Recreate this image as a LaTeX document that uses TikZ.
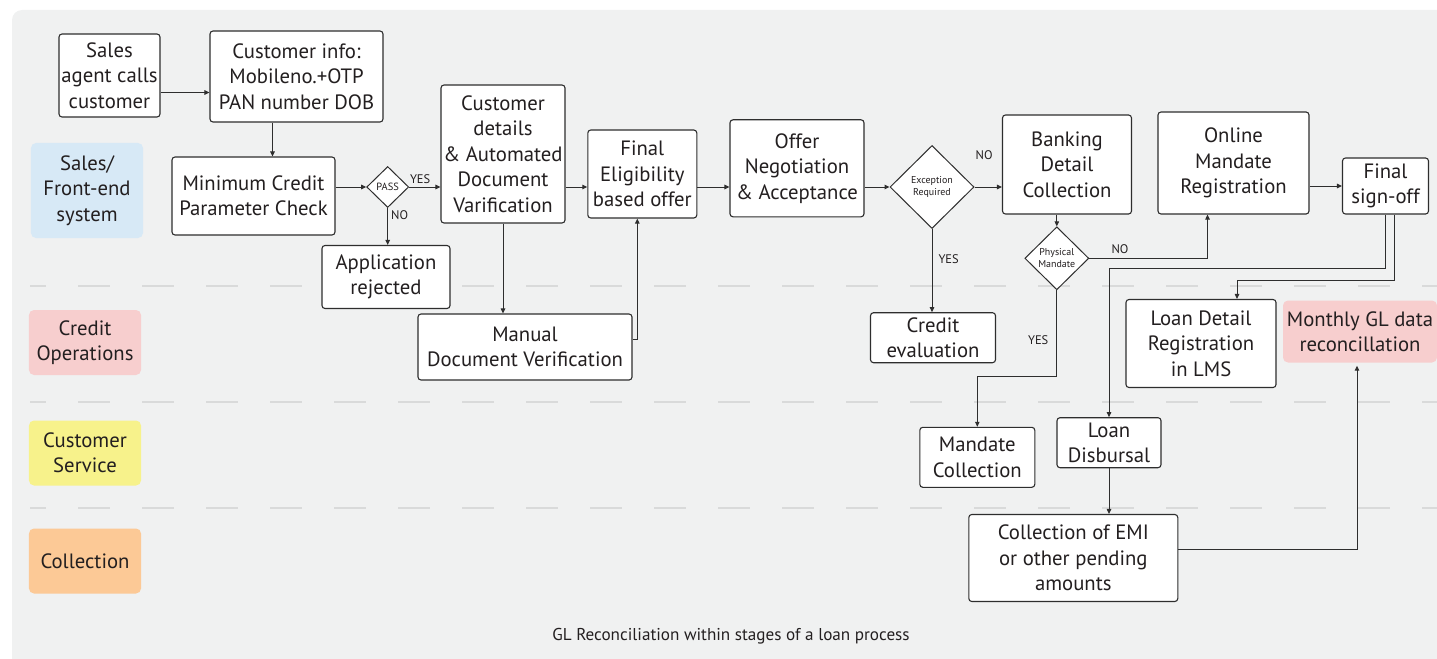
\documentclass[tikz,border=0pt]{standalone}
\usepackage{fontspec}
\setmainfont{PT Sans}
\usepackage{tikz}
\usetikzlibrary{shapes.geometric,arrows.meta,positioning,calc}

\definecolor{bgGray}{HTML}{F0F1F1}
\definecolor{sepGray}{HTML}{D9DADA}
\definecolor{lineDark}{HTML}{2E2E2E}
\definecolor{textDark}{HTML}{231F20}
\definecolor{salesBlue}{HTML}{D7E9F6}
\definecolor{creditPink}{HTML}{F7CECE}
\definecolor{servYellow}{HTML}{F7F28B}
\definecolor{collOrange}{HTML}{FCC996}

\newcommand{\boxfont}{\fontsize{20.8}{25.5}\selectfont}
\newcommand{\lblfont}{\fontsize{12.5}{14}\selectfont}
\newcommand{\dmdfont}{\fontsize{10}{12.3}\selectfont}
\newcommand{\capfont}{\fontsize{17.2}{19}\selectfont}

\begin{document}
\begin{tikzpicture}[
    x=1bp, y=-1bp,
    % --- STYLES ---
    stepbox/.style={
        rectangle, rounded corners=3bp,
        draw=lineDark, line width=1.1bp, fill=white,
        align=center, font=\boxfont, text=textDark,
        inner sep=1bp
    },
    lanetag/.style={
        rectangle, rounded corners=5bp,
        align=center, font=\boxfont, text=textDark,
        minimum width=112bp, minimum height=65bp,
        inner sep=1bp
    },
    decision/.style={
        diamond, draw=lineDark, line width=1bp, fill=white,
        inner sep=0pt, align=center,
        font=\dmdfont, text=textDark
    },
    answer/.style={font=\lblfont, text=textDark, inner sep=1bp},
    lanesep/.style={draw=sepGray, line width=1.4bp, dash pattern=on 32bp off 32bp, dash phase=16bp},
    flow/.style={draw=lineDark, line width=1bp, -{Triangle[length=5bp,width=4.5bp]}}
]

% ===== 1. BACKGROUND & LANES =====
\useasboundingbox (0,0) rectangle (1437,659);
\fill[bgGray, rounded corners=10bp] (12,10) rectangle (1470,690);
\foreach \yy in {286,402,508}
    \draw[lanesep] (30,\yy) -- (1437,\yy);

\node[lanetag, fill=salesBlue, minimum height=95bp] (laneSales) at (87,190.5) {Sales/\\Front-end\\system};
\node[lanetag, fill=creditPink] (laneCredit) at (85,342.5) {Credit\\Operations};
\node[lanetag, fill=servYellow] (laneService) at (85,453) {Customer\\Service};
\node[lanetag, fill=collOrange] (laneColl) at (85,561) {Collection};

% ===== 2. SALES / FRONT-END NODES =====
\node[stepbox, minimum width=101bp, minimum height=83bp] (agent) at (109.5,75.5) {Sales\\agent calls\\customer};
\node[stepbox, minimum width=173bp, minimum height=91bp] (info) at (296.5,76.5) {Customer info:\\Mobileno.+OTP\\PAN number DOB};
\node[stepbox, minimum width=163bp, minimum height=78bp] (mincr) at (253.5,196) {Minimum Credit\\Parameter Check};
\node[decision, minimum width=42bp, minimum height=41bp, font=\fontsize{10.5}{12}\selectfont] (pass) at (387.7,187) {PASS};
\node[stepbox, minimum width=128bp, minimum height=63bp] (rejected) at (386,277) {Application\\rejected};
\node[stepbox, minimum width=124bp, minimum height=138bp] (custdet) at (503,154) {Customer\\details\\\& Automated\\Document\\Varification};
\node[stepbox, minimum width=109bp, minimum height=88bp] (final) at (642.3,174) {Final\\Eligibility\\based offer};
\node[stepbox, minimum width=134bp, minimum height=97bp] (offer) at (797,168.3) {Offer\\Negotiation\\\& Acceptance};
\node[decision, minimum width=84bp, minimum height=83bp] (exc) at (932,187) {Exception\\Required};
\node[stepbox, minimum width=129bp, minimum height=99bp] (bank) at (1067,164.5) {Banking\\Detail\\Collection};
\node[decision, minimum width=64bp, minimum height=63bp] (phys) at (1056.8,258.3) {Physical\\Mandate};
\node[stepbox, minimum width=151bp, minimum height=102bp] (online) at (1233.5,163) {Online\\Mandate\\Registration};
\node[stepbox, minimum width=86bp, minimum height=56bp] (signoff) at (1385.5,186) {Final\\sign-off};

% ===== 3. CREDIT OPERATIONS NODES =====
\node[stepbox, minimum width=214bp, minimum height=66bp] (manual) at (525,347) {Manual\\Document Verification};
\node[stepbox, minimum width=125bp, minimum height=50bp] (crediteval) at (933,337.7) {Credit\\evaluation};
\node[stepbox, minimum width=150bp, minimum height=88bp] (lms) at (1201,343.5) {Loan Detail\\Registration\\in LMS};
\node[lanetag, fill=creditPink, minimum width=154bp, minimum height=62bp] (gl) at (1360,331.5) {Monthly GL data\\reconcillation};

% ===== 4. CUSTOMER SERVICE & COLLECTION NODES =====
\node[stepbox, minimum width=115bp, minimum height=60bp] (mandcol) at (977.3,457.3) {Mandate\\Collection};
\node[stepbox, minimum width=104bp, minimum height=50bp] (disb) at (1109,442.7) {Loan\\Disbursal};
\node[stepbox, minimum width=209bp, minimum height=87bp] (emi) at (1073.3,558) {Collection of EMI\\or other pending\\amounts};

\node[font=\capfont, text=textDark] (caption) at (731,636) {GL Reconciliation within stages of a loan process};

% ===== 5. CONNECTIONS =====
\draw[flow] ([yshift=-17bp]agent.east) -- ([yshift=-17bp]agent.east -| info.west);
\draw[flow] ([xshift=-24bp]info.south) -- ([xshift=-24bp]info.south |- mincr.north);
\draw[flow] (pass.west -| mincr.east) -- (pass.west);

% PASS branch
\draw[flow] (pass.east) -- node[answer, above=2bp, pos=0.35] {YES} (pass.east -| custdet.west);
\draw[flow] (pass.south) -- node[answer, right=2bp, pos=0.2] {NO} (pass.south |- rejected.north);

% document checks
\draw[flow] (custdet.south) -- (custdet.south |- manual.north);
\draw[flow] ([yshift=8bp]manual.east) -| ([xshift=-5bp]final.south);
\draw[flow] (pass -| custdet.east) -- (pass -| final.west);
\draw[flow] (pass -| final.east) -- (pass -| offer.west);
\draw[flow] (pass -| offer.east) -- (exc.west);

% exception branch
\draw[flow] (exc.east) -- node[answer, above=26bp, pos=0.35] {NO} (exc.east -| bank.west);
\draw[flow] (exc.south) -- node[answer, right=5bp, pos=0.36] {YES} (exc.south |- crediteval.north);

% mandate
\draw[flow] (bank.south -| phys.north) -- (phys.north);
\draw[flow] (phys.east) -| node[answer, above=3bp, pos=0.13] {NO} ([xshift=-26bp]online.south);
\draw[flow] (phys.south) -- node[answer, left=7bp, pos=0.58] {YES} ++(0,86) -| (mandcol.north);
\draw[flow] (online.east |- signoff) -- (signoff.west);

% sign-off -> disbursal & LMS
\draw[flow] (signoff.south) -- ++(0,54) -| (disb.north);
\draw[flow] ([xshift=9bp]signoff.south) -- ++(0,66) -| ([xshift=36bp]lms.north);
\draw[flow] (disb.south) -- (disb.south |- emi.north);
\draw[flow, shorten >=3bp] ([yshift=9bp]emi.east) -| ([xshift=-3bp]gl.south);

\end{tikzpicture}
\end{document}
